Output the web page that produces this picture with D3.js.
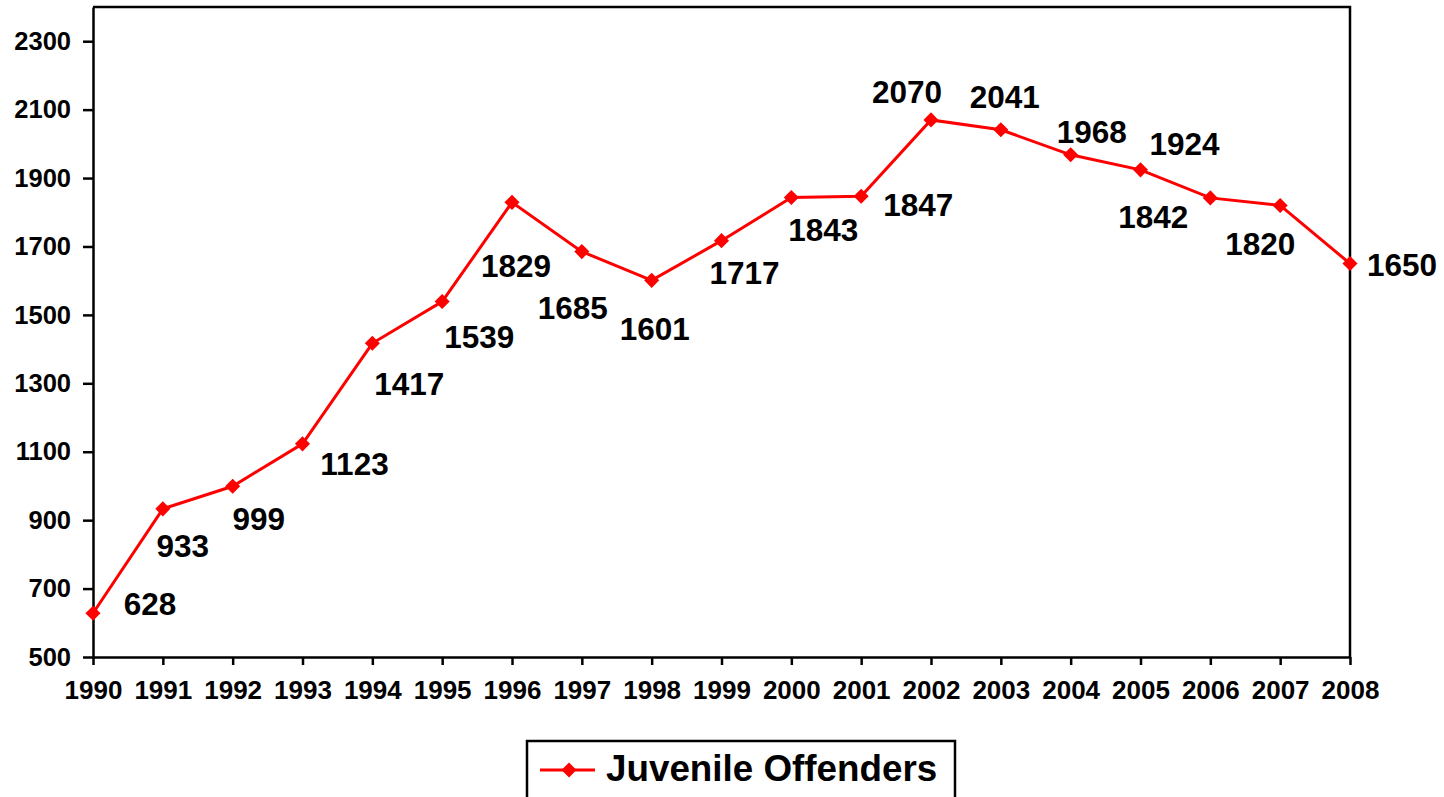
<!DOCTYPE html>
<html>
<head>
<meta charset="utf-8">
<script src="https://cdn.jsdelivr.net/npm/d3@7"></script>
<style>
  body { margin: 0; background: #fff; }
  svg { display: block; font-family: "Liberation Sans", Arial, sans-serif; font-weight: bold; }
</style>
</head>
<body>
<div id="chart"></div>
<script>
// data
const years = [1990, 1991, 1992, 1993, 1994, 1995, 1996, 1997, 1998, 1999,
               2000, 2001, 2002, 2003, 2004, 2005, 2006, 2007, 2008];
const offenders = [628, 933, 999, 1123, 1417, 1539, 1829, 1685, 1601, 1717,
                   1843, 1847, 2070, 2041, 1968, 1924, 1842, 1820, 1650];
const yTicks = [500, 700, 900, 1100, 1300, 1500, 1700, 1900, 2100, 2300];
const seriesName = "Juvenile Offenders";

// label placement relative to each point (dragged by hand in the original)
const labelOffsets = [
  [57, 2], [20, 48], [26, 44], [52, 31], [37, 52], [37, 46], [4, 75],
  [-9, 67], [3, 60], [23, 43], [32, 43], [57, 20], [-24, -17], [4, -22],
  [21, -12], [44, -15], [-57, 30], [-20, 50], [52, 12]
];

const W = 1444, H = 797;
const margin = { top: 7, right: 94, bottom: 140, left: 93 };

const svg = d3.select("#chart").append("svg")
  .attr("width", W)
  .attr("height", H);

const x = d3.scaleLinear()
  .domain([1990, 2008])
  .range([margin.left, W - margin.right]);

const y = d3.scaleLinear()
  .domain([500, 2400])
  .range([H - margin.bottom, margin.top]);

// plot frame (top + right)
svg.append("path")
  .attr("d", `M${x(1990)},${y(2400)}H${x(2008)}V${y(500)}`)
  .attr("fill", "none")
  .attr("stroke", "#000")
  .attr("stroke-width", 2.5);

// y axis
const yAxis = svg.append("g")
  .attr("transform", `translate(${margin.left},0)`)
  .call(d3.axisLeft(y).tickValues(yTicks).tickFormat(d3.format("d"))
    .tickSize(10).tickPadding(12).tickSizeOuter(0));
yAxis.select(".domain").attr("stroke-width", 2.5);
yAxis.selectAll(".tick line").attr("stroke-width", 2.5);
yAxis.selectAll(".tick text")
  .attr("font-size", 25.5)
  .attr("font-family", "Liberation Sans, Arial, sans-serif")
  .attr("font-weight", "bold")
  .attr("fill", "#000");

// x axis
const xAxis = svg.append("g")
  .attr("transform", `translate(0,${y(500)})`)
  .call(d3.axisBottom(x).tickValues(years).tickFormat(d3.format("d"))
    .tickSize(8).tickPadding(16).tickSizeOuter(0));
xAxis.select(".domain").attr("stroke-width", 2.5);
xAxis.selectAll(".tick line").attr("stroke-width", 2.5);
xAxis.selectAll(".tick text")
  .attr("font-size", 26)
  .attr("font-family", "Liberation Sans, Arial, sans-serif")
  .attr("font-weight", "bold")
  .attr("fill", "#000");

// series
const line = d3.line()
  .x((d, i) => x(years[i]))
  .y(d => y(d));

svg.append("path")
  .datum(offenders)
  .attr("d", line)
  .attr("fill", "none")
  .attr("stroke", "#ff0000")
  .attr("stroke-width", 3);

const diamond = d3.symbol().type(d3.symbolDiamond2).size(145);

svg.selectAll("path.marker")
  .data(offenders)
  .enter()
  .append("path")
  .attr("class", "marker")
  .attr("d", diamond)
  .attr("transform", (d, i) => `translate(${x(years[i])},${y(d)})`)
  .attr("fill", "#ff0000");

svg.selectAll("text.value")
  .data(offenders)
  .enter()
  .append("text")
  .attr("class", "value")
  .attr("x", (d, i) => x(years[i]) + labelOffsets[i][0])
  .attr("y", (d, i) => y(d) + labelOffsets[i][1])
  .attr("text-anchor", "middle")
  .attr("font-size", 31.5)
  .attr("fill", "#000")
  .text(d => d);

// legend
const legend = svg.append("g").attr("transform", "translate(527,741)");
legend.append("rect")
  .attr("width", 428)
  .attr("height", 90)
  .attr("fill", "#fff")
  .attr("stroke", "#000")
  .attr("stroke-width", 2.5);
legend.append("line")
  .attr("x1", 13).attr("x2", 68)
  .attr("y1", 29).attr("y2", 29)
  .attr("stroke", "#ff0000")
  .attr("stroke-width", 3);
legend.append("path")
  .attr("d", diamond)
  .attr("transform", "translate(42,29)")
  .attr("fill", "#ff0000");
legend.append("text")
  .attr("x", 79)
  .attr("y", 40)
  .attr("font-size", 36.8)
  .attr("fill", "#000")
  .text(seriesName);
</script>
</body>
</html>
